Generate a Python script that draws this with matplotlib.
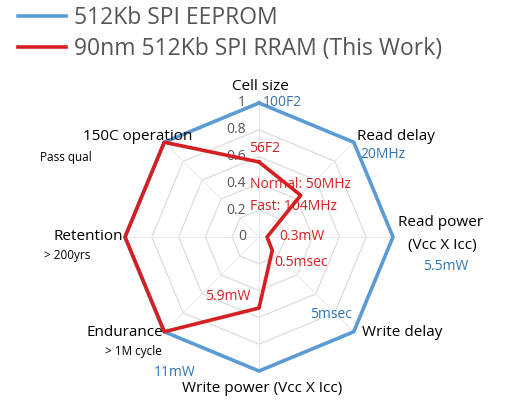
import numpy as np
import matplotlib.pyplot as plt

plt.rcParams['font.family'] = ['Open Sans', 'DejaVu Sans']

axes_names = ["Cell size", "Read delay", "Read power", "Write delay",
              "Write power", "Endurance", "Retention", "150C operation"]
eeprom = [1, 1, 1, 1, 1, 1, 1, 1]
rram = [0.56, 0.44, 0.06, 0.14, 0.53, 1, 1, 1]
rings = [0.2, 0.4, 0.6, 0.8, 1.0]
ring_labels = ["0", "0.2", "0.4", "0.6", "0.8", "1"]

W, H = 515, 407
cx, cy, R = 259, 237, 134

fig = plt.figure(figsize=(W / 100, H / 100), dpi=100)
ax = fig.add_axes([0, 0, 1, 1])
ax.set_xlim(-cx / R, (W - cx) / R)
ax.set_ylim(-(H - cy) / R, cy / R)
ax.axis("off")

ang = np.arange(len(axes_names)) * 2 * np.pi / len(axes_names)


def xy(vals):
    v = np.append(vals, vals[0])
    a = np.append(ang, ang[0])
    return v * np.sin(a), v * np.cos(a)


def pos(px, py):
    return (px - cx) / R, (cy - py) / R


for r in rings:
    x, y = xy(np.full(len(ang), r))
    ax.plot(x, y, color="#d9d9d9", lw=0.8, zorder=1)
for a in ang:
    ax.plot([0, np.sin(a)], [0, np.cos(a)], color="#e6e6e6", lw=0.6, zorder=1)

for i, lab in enumerate(ring_labels):
    ax.text(*pos(246, 237 - i * 26.8), lab, color="#555555", fontsize=10,
            ha="right", va="center")

x, y = xy(eeprom)
l1, = ax.plot(x, y, color="#5b9bd5", lw=2.6, zorder=3, label="512Kb SPI EEPROM")
x, y = xy(rram)
l2, = ax.plot(x, y, color="#d42020", lw=2.6, zorder=4,
              label="90nm 512Kb SPI RRAM (This Work)")

leg = fig.legend(handles=[l1, l2], loc="upper left", bbox_to_anchor=(-0.005, 1.035),
                 frameon=False, fontsize=16.5, handlelength=2.1, labelspacing=0.3,
                 handletextpad=0.35)
for t in leg.get_texts():
    t.set_color("#555555")

black = [("Cell size", 260, 87, "center", 11),
         ("Read delay", 357, 137, "left", 11),
         ("Read power", 398, 222, "left", 11),
         ("(Vcc X Icc)", 408, 246, "left", 11),
         ("Write delay", 362, 333, "left", 11),
         ("Write power (Vcc X Icc)", 262, 389, "center", 11),
         ("Endurance", 163, 333, "right", 11),
         ("> 1M cycle", 105, 351, "left", 8.5),
         ("Retention", 123, 237, "right", 11),
         ("> 200yrs", 44, 255, "left", 8.5),
         ("150C operation", 192, 136, "right", 11),
         ("Pass qual", 40, 157, "left", 8.5)]
for t, px, py, ha, fs in black:
    ax.text(*pos(px, py), t, fontsize=fs, ha=ha, va="center", color="black")

blue = [("100F2", 263, 102, "left"), ("20MHz", 360, 155, "left"),
        ("5.5mW", 423, 267, "left"), ("5msec", 310, 315, "left"),
        ("11mW", 175, 372, "center")]
for t, px, py, ha in blue:
    ax.text(*pos(px, py), t, fontsize=10, ha=ha, va="center", color="#2e75b6")

red = [("56F2", 249, 148, "left"), ("Normal: 50MHz", 250, 185, "left"),
       ("Fast: 104MHz", 250, 207, "left"), ("0.3mW", 279, 237, "left"),
       ("0.5msec", 274, 263, "left"), ("5.9mW", 205, 297, "left")]
for t, px, py, ha in red:
    ax.text(*pos(px, py), t, fontsize=10, ha=ha, va="center", color="#d42020",
            zorder=5)

fig.savefig("out.png", dpi=100)
